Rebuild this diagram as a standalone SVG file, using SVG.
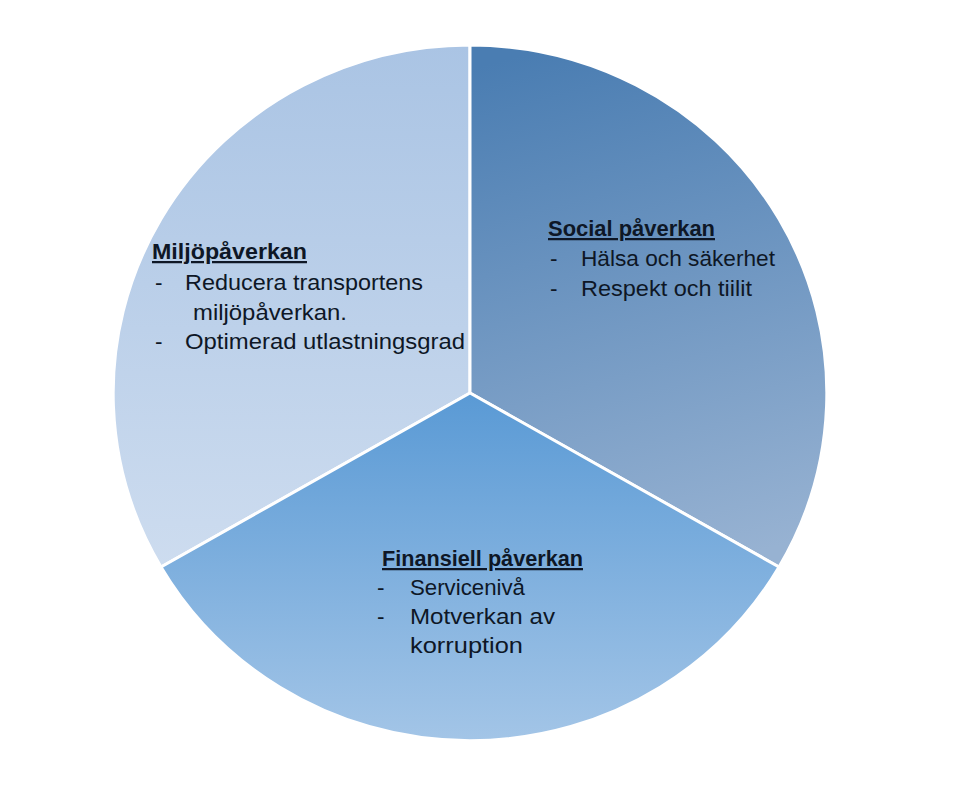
<svg xmlns="http://www.w3.org/2000/svg" width="955" height="794" viewBox="0 0 955 794">
  <defs>
    <linearGradient id="gMiljo" gradientUnits="userSpaceOnUse" x1="0" y1="45" x2="0" y2="567">
      <stop offset="0" stop-color="#aac4e4"/>
      <stop offset="1" stop-color="#cddcef"/>
    </linearGradient>
    <linearGradient id="gSocial" gradientUnits="userSpaceOnUse" x1="560" y1="45" x2="700" y2="567">
      <stop offset="0" stop-color="#4a7db2"/>
      <stop offset="1" stop-color="#97b2d2"/>
    </linearGradient>
    <linearGradient id="gFin" gradientUnits="userSpaceOnUse" x1="0" y1="395" x2="0" y2="741">
      <stop offset="0" stop-color="#5a9ad5"/>
      <stop offset="1" stop-color="#a3c5e7"/>
    </linearGradient>
    <style>
      .slice { stroke: #ffffff; stroke-width: 3; stroke-linejoin: round; }
      .t { font-family: "Liberation Sans", Arial, sans-serif; font-size: 22.5px; fill: #0e1726; }
      .h { font-weight: bold; text-decoration: underline; }
    </style>
  </defs>
  <rect width="955" height="794" fill="#ffffff"/>

  <g id="miljo">
    <path class="slice" fill="url(#gMiljo)" d="M470,393 L470,45 A357,348 0 0 0 161,567 Z"/>
    <text class="t h" x="152" y="259" textLength="155" lengthAdjust="spacingAndGlyphs">Miljöpåverkan</text>
    <text class="t" x="155" y="290">-</text>
    <text class="t" x="185" y="290" textLength="238" lengthAdjust="spacingAndGlyphs">Reducera transportens</text>
    <text class="t" x="193" y="320" textLength="154" lengthAdjust="spacingAndGlyphs">miljöpåverkan.</text>
    <text class="t" x="155" y="349">-</text>
    <text class="t" x="185" y="349" textLength="280" lengthAdjust="spacingAndGlyphs">Optimerad utlastningsgrad</text>
  </g>

  <g id="social">
    <path class="slice" fill="url(#gSocial)" d="M470,393 L470,45 A357,348 0 0 1 779,567 Z"/>
    <text class="t h" x="548" y="236" textLength="167" lengthAdjust="spacingAndGlyphs">Social påverkan</text>
    <text class="t" x="550" y="266">-</text>
    <text class="t" x="581" y="266" textLength="194" lengthAdjust="spacingAndGlyphs">Hälsa och säkerhet</text>
    <text class="t" x="550" y="296">-</text>
    <text class="t" x="581" y="296" textLength="171" lengthAdjust="spacingAndGlyphs">Respekt och tiilit</text>
  </g>

  <g id="finansiell">
    <path class="slice" fill="url(#gFin)" d="M470,393 L161,567 A357,348 0 0 0 779,567 Z"/>
    <text class="t h" x="382" y="566" textLength="201" lengthAdjust="spacingAndGlyphs">Finansiell påverkan</text>
    <text class="t" x="377" y="595">-</text>
    <text class="t" x="410" y="595" textLength="115" lengthAdjust="spacingAndGlyphs">Servicenivå</text>
    <text class="t" x="377" y="624">-</text>
    <text class="t" x="410" y="624" textLength="145" lengthAdjust="spacingAndGlyphs">Motverkan av</text>
    <text class="t" x="410" y="653" textLength="113" lengthAdjust="spacingAndGlyphs">korruption</text>
  </g>

  <g id="connectors"></g>
</svg>
